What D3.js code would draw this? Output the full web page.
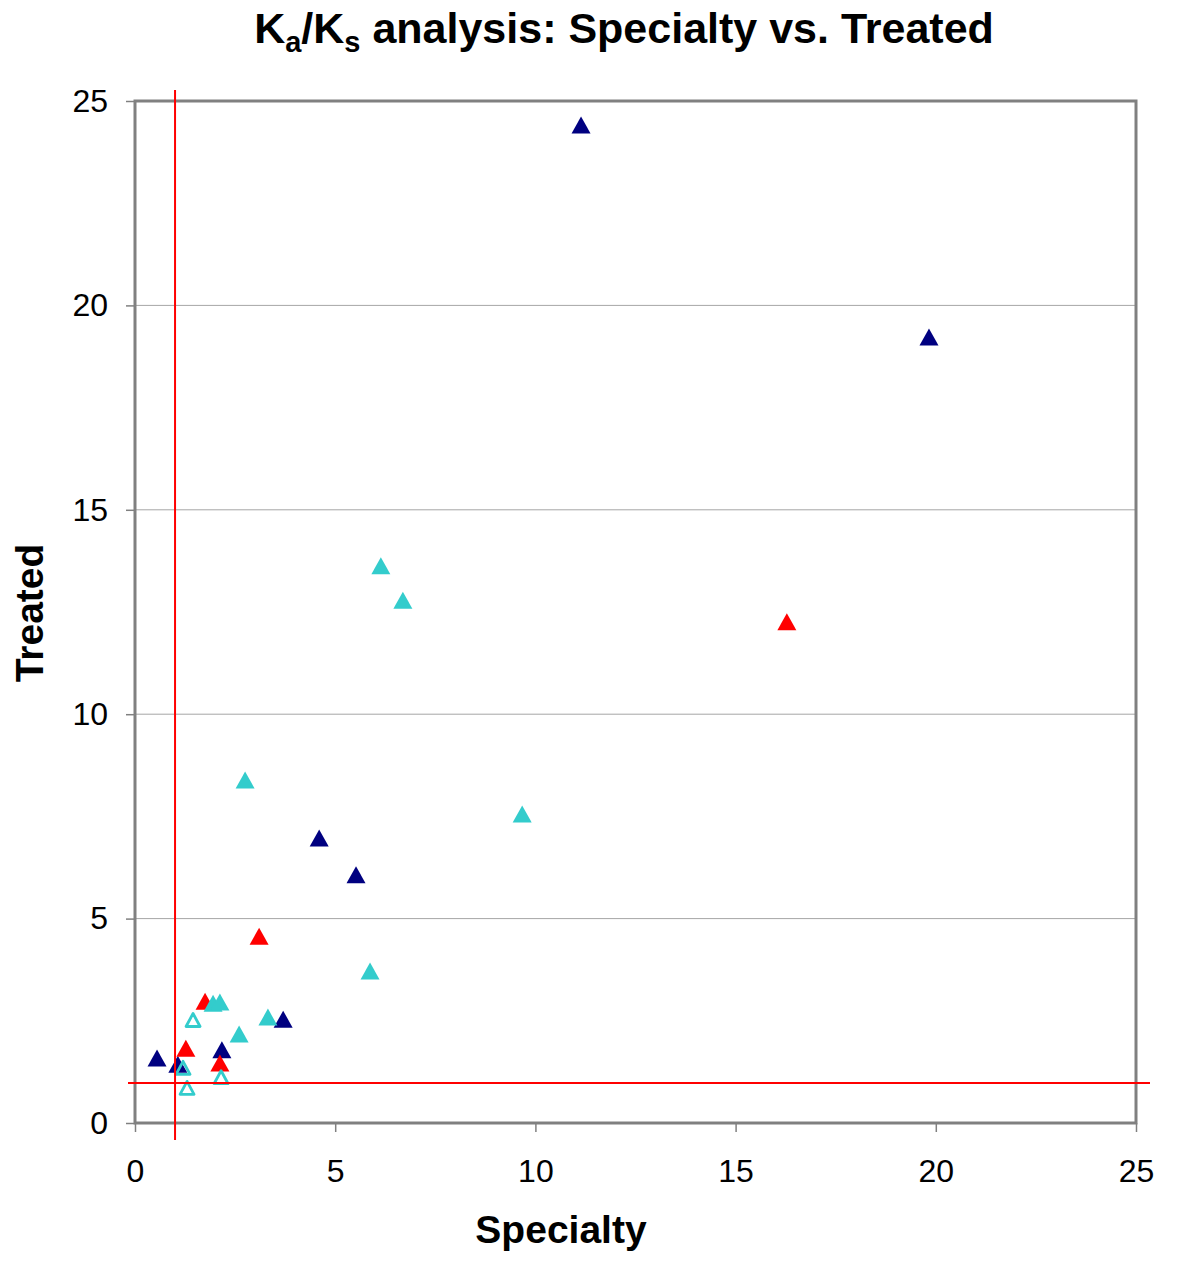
<!DOCTYPE html>
<html><head><meta charset="utf-8">
<script src="https://cdn.jsdelivr.net/npm/d3@7"></script>
<style>body{margin:0;background:#fff}</style>
</head><body>
<svg id="c" width="1200" height="1264"></svg>
<script>
const xTicks = [0,5,10,15,20,25];
const yTicks = [0,5,10,15,20,25];
const navyPts = [[11.14,24.41],[19.83,19.23],[4.60,6.97],[5.52,6.07],[3.70,2.54],[0.55,1.59],[1.07,1.44],[2.17,1.79]];
const redPts = [[16.28,12.26],[3.10,4.57],[1.75,2.98],[1.27,1.83],[2.12,1.47]];
const cyanPts = [[6.14,13.63],[6.69,12.79],[2.75,8.39],[9.67,7.56],[5.87,3.72],[3.32,2.59],[2.60,2.18],[1.95,2.93],[2.12,2.96]];
const cyanOpenPts = [[1.45,2.52],[1.20,1.35],[2.15,1.12],[1.30,0.86]];
const refX = 1, refY = 1;

const svg = d3.select("#c");
const x = d3.scaleLinear().domain([0,25]).range([135,1136]);
const y = d3.scaleLinear().domain([0,25]).range([1123,101]);
const font = "'Liberation Sans', Arial, sans-serif";

// gridlines
svg.append("g").selectAll("line").data(yTicks.filter(d=>d>0&&d<25)).join("line")
  .attr("x1",x(0)).attr("x2",x(25)).attr("y1",d=>y(d)).attr("y2",d=>y(d))
  .attr("stroke","#a6a6a6").attr("stroke-width",1);

// axes
const xa = svg.append("g").attr("transform",`translate(0,${y(0)})`)
  .call(d3.axisBottom(x).tickValues(xTicks).tickSize(9).tickPadding(27).tickFormat(d3.format("d")));
const ya = svg.append("g").attr("transform",`translate(${x(0)},0)`)
  .call(d3.axisLeft(y).tickValues(yTicks).tickSize(9).tickPadding(18).tickFormat(d3.format("d")));
[xa,ya].forEach(a=>{
  a.select(".domain").remove();
  a.selectAll("line").attr("stroke","#808080").attr("stroke-width",1.5);
  a.selectAll("text").attr("font-family",font).attr("font-size",32).attr("fill","#000");
});

// frame
svg.append("rect").attr("x",x(0)).attr("y",y(25)).attr("width",x(25)-x(0)).attr("height",y(0)-y(25))
  .attr("fill","none").attr("stroke","#808080").attr("stroke-width",3);

// points (triangles centred on their bounding box)
const triPath = (hw, hh) => `M0,${-hh}L${hw},${hh}L${-hw},${hh}Z`;
function pts(data, fill){
  svg.append("g").selectAll("path").data(data).join("path")
    .attr("d", triPath(9.5, 8.5))
    .attr("transform", d=>`translate(${x(d[0])},${y(d[1])})`)
    .attr("fill", fill);
}
pts(navyPts, "#000080");
pts(redPts, "#ff0000");
pts(cyanPts, "#33cccc");
svg.append("g").selectAll("path").data(cyanOpenPts).join("path")
  .attr("d", triPath(7, 6.5))
  .attr("transform", d=>`translate(${x(d[0])},${y(d[1])})`)
  .attr("fill","none").attr("stroke","#33cccc").attr("stroke-width",2.8).attr("stroke-linejoin","round");

// red reference lines
svg.append("line").attr("x1",x(refX)).attr("x2",x(refX)).attr("y1",90).attr("y2",1140)
  .attr("stroke","#ff0000").attr("stroke-width",2);
svg.append("line").attr("x1",128).attr("x2",1150).attr("y1",y(refY)+1).attr("y2",y(refY)+1)
  .attr("stroke","#ff0000").attr("stroke-width",2);

// titles
const t = svg.append("text").attr("x",624).attr("y",43).attr("text-anchor","middle")
  .attr("font-family",font).attr("font-weight","bold").attr("font-size",43);
t.append("tspan").text("K");
t.append("tspan").text("a").attr("font-size",29).attr("dy",9);
t.append("tspan").text("/K").attr("dy",-9);
t.append("tspan").text("s").attr("font-size",29).attr("dy",9);
t.append("tspan").text(" analysis: Specialty vs. Treated").attr("dy",-9);

svg.append("text").attr("x",561).attr("y",1243).attr("text-anchor","middle")
  .attr("font-family",font).attr("font-weight","bold").attr("font-size",39).text("Specialty");
svg.append("text").attr("transform","translate(43,613) rotate(-90)").attr("text-anchor","middle")
  .attr("font-family",font).attr("font-weight","bold").attr("font-size",39).text("Treated");
</script>
</body></html>
